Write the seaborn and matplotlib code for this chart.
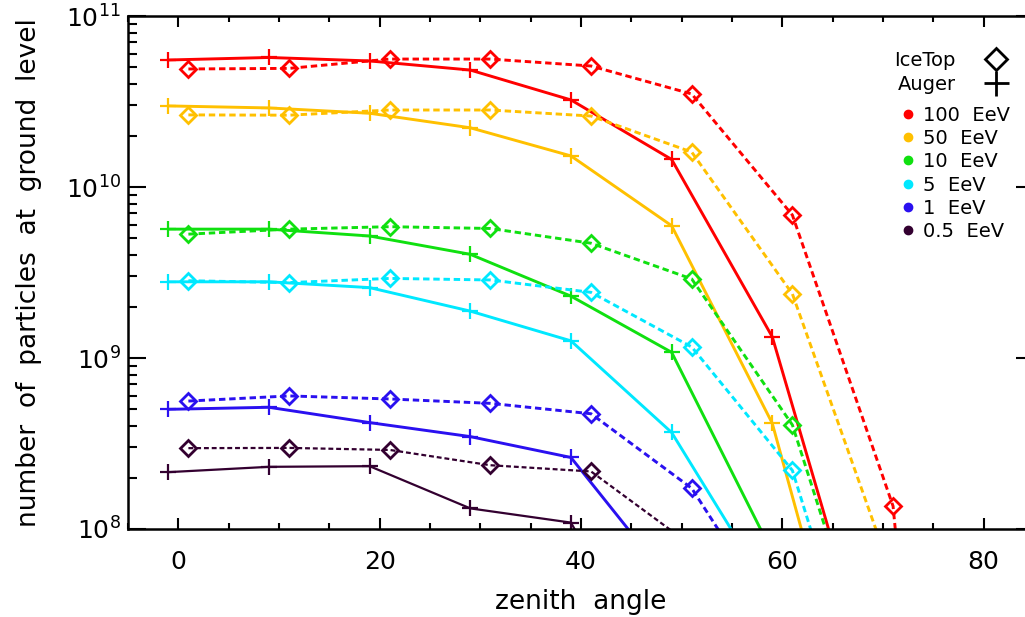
import matplotlib
matplotlib.use("Agg")
import matplotlib.pyplot as plt
from matplotlib.lines import Line2D
from matplotlib.ticker import LogLocator, MultipleLocator, NullFormatter
import seaborn as sns

# zenith angles of the two detector grids
auger_x = [-1, 9, 19, 29, 39, 49, 59, 69]
icetop_x = [1, 11, 21, 31, 41, 51, 61, 71, 81]

energies = ["100  EeV", "50  EeV", "10  EeV", "5  EeV", "1  EeV", "0.5  EeV"]
colors = ["#ff0000", "#ffc000", "#10e010", "#00e8ff", "#2a10f0", "#330030"]

# number of particles at ground level (Auger, solid + plus)
auger_100 = [5.53e10, 5.72e10, 5.46e10, 4.83e10, 3.23e10, 1.45e10, 1.33e9, 1.3e7]
auger_50 = [2.98e10, 2.90e10, 2.70e10, 2.22e10, 1.52e10, 5.94e9, 4.15e8, 3.0e6]
auger_10 = [5.67e9, 5.67e9, 5.17e9, 4.04e9, 2.30e9, 1.08e9, 7.3e7]
auger_5 = [2.79e9, 2.79e9, 2.58e9, 1.88e9, 1.26e9, 3.67e8, 4.05e7]
auger_1 = [5.01e8, 5.15e8, 4.19e8, 3.47e8, 2.62e8, 4.8e7]
auger_05 = [2.15e8, 2.31e8, 2.33e8, 1.32e8, 1.09e8, 1.0e7]

# IceTop, dashed + diamond
icetop_100 = [4.90e10, 4.94e10, 5.60e10, 5.60e10, 5.10e10, 3.50e10, 6.85e9, 1.36e8, 1.0e2]
icetop_50 = [2.64e10, 2.63e10, 2.82e10, 2.82e10, 2.60e10, 1.60e10, 2.37e9, 5.2e7]
icetop_10 = [5.30e9, 5.67e9, 5.86e9, 5.72e9, 4.69e9, 2.90e9, 4.06e8, 5.8e6]
icetop_5 = [2.83e9, 2.76e9, 2.92e9, 2.86e9, 2.42e9, 1.16e9, 2.20e8, 2.8e6]
icetop_1 = [5.60e8, 6.00e8, 5.76e8, 5.43e8, 4.72e8, 1.73e8, 2.1e7]
icetop_05 = [2.97e8, 2.98e8, 2.90e8, 2.36e8, 2.17e8, 8.0e7]

auger = [auger_100, auger_50, auger_10, auger_5, auger_1, auger_05]
icetop = [icetop_100, icetop_50, icetop_10, icetop_5, icetop_1, icetop_05]

sns.set_style("white")
plt.rcParams["font.family"] = ["DejaVu Sans"]
plt.rcParams["mathtext.default"] = "regular"
plt.rcParams["text.color"] = "black"
plt.rcParams["axes.labelcolor"] = "black"
plt.rcParams["xtick.color"] = "black"
plt.rcParams["ytick.color"] = "black"

fig = plt.figure(figsize=(10.25, 6.17), dpi=100)
ax = fig.add_axes([128 / 1025, 88 / 617, 906 / 1025, 513 / 617])

for col, ya, yi in zip(colors, auger, icetop):
    lw = 1.6 if col == "#330030" else 2.1
    sns.lineplot(x=auger_x[:len(ya)], y=ya, ax=ax, color=col, lw=lw,
                 marker="+", markersize=11, mew=1.6, mec=col, errorbar=None)
    sns.lineplot(x=icetop_x[:len(yi)], y=yi, ax=ax, color=col, lw=lw,
                 linestyle=(0, (2.2, 1.3)), marker="D", markersize=8,
                 mew=2.0, mfc="none", mec=col, errorbar=None)

ax.set_yscale("log")
ax.set_xlim(-5, 85)
ax.set_ylim(1e8, 1e11)
ax.xaxis.set_major_locator(MultipleLocator(20))
ax.xaxis.set_minor_locator(MultipleLocator(5))
ax.yaxis.set_major_locator(LogLocator(base=10))
ax.yaxis.set_minor_locator(LogLocator(base=10, subs=range(2, 10)))
ax.yaxis.set_minor_formatter(NullFormatter())

for s in ax.spines.values():
    s.set_linewidth(1.8)
    s.set_color("black")

ax.tick_params(axis="x", which="major", direction="in", length=8, width=1.5,
               bottom=True, top=True, labelsize=18, pad=15)
ax.tick_params(axis="x", which="minor", direction="in", length=4.5, width=1.5,
               bottom=True, top=True)
ax.tick_params(axis="y", which="major", direction="in", length=13, width=1.5,
               left=True, right=True, labelsize=18, pad=5)
ax.tick_params(axis="y", which="minor", direction="in", length=6.5, width=1.5,
               left=True, right=True)

ax.set_xlabel("zenith  angle", fontsize=19)
ax.set_ylabel("number  of  particles  at  ground  level", fontsize=19)
ax.xaxis.set_label_coords(0.5, -0.117)
ax.yaxis.set_label_coords(-0.095, 0.5)

shape_handles = [
    Line2D([], [], color="black", ls="none", marker="D", markersize=11, mew=2, mfc="none"),
    Line2D([], [], color="black", ls="none", marker="+", markersize=18, mew=2),
]
leg1 = ax.legend(shape_handles, ["IceTop", "Auger"], loc="upper right",
                 bbox_to_anchor=(1018 / 1025, 1 - 41 / 617), bbox_transform=fig.transFigure,
                 markerfirst=False, frameon=False, fontsize=14, borderpad=0,
                 labelspacing=0.25, handlelength=1.3, handletextpad=1.4)
ax.add_artist(leg1)

dot_handles = [Line2D([], [], color=c, ls="none", marker="o", markersize=6) for c in colors]
ax.legend(dot_handles, energies, loc="upper left",
          bbox_to_anchor=(892 / 1025, 1 - 96 / 617), bbox_transform=fig.transFigure,
          frameon=False, fontsize=14, borderpad=0, labelspacing=0.22,
          handlelength=0.6, handletextpad=0.5)

fig.savefig("out.png", dpi=100)
